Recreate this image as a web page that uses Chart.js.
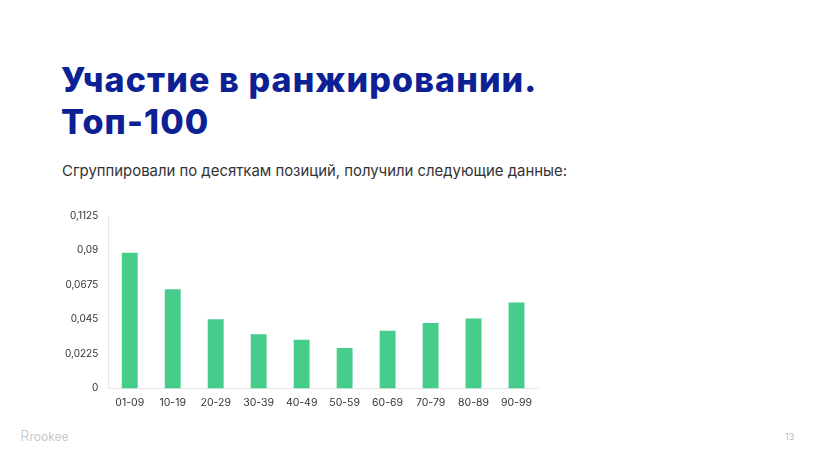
<!DOCTYPE html>
<html><head><meta charset="utf-8">
<script src="https://cdn.jsdelivr.net/npm/chart.js@4/dist/chart.umd.min.js"></script>
<style>
html,body{margin:0;padding:0;background:#fff;width:818px;height:460px;overflow:hidden;font-family:Inter,"Open Sans",sans-serif;}
#title{position:absolute;left:61px;top:59px;font-size:34px;font-weight:800;color:#0c2294;line-height:42px;letter-spacing:1.1px;}
#sub{position:absolute;left:62px;top:162px;font-size:14.9px;color:#333;}
#wrap{position:absolute;left:55px;top:200px;width:500px;height:217px;}
#logo{position:absolute;left:20px;top:426px;font-size:12px;color:#c8c8c8;}
#page{position:absolute;left:785px;top:431px;font-size:9px;color:#bbb;}
</style></head>
<body>
<div id="title">Участие в ранжировании.<br>Топ-100</div>
<div id="sub">Сгруппировали по десяткам позиций, получили следующие данные:</div>
<div id="wrap"><canvas id="c"></canvas></div>
<div id="logo"><span style="font-size:15px;font-weight:300;">R</span>rookee</div>
<div id="page">13</div>
<script>
const categories = ["01-09","10-19","20-29","30-39","40-49","50-59","60-69","70-79","80-89","90-99"];
const values = [0.0886,0.0647,0.0452,0.0354,0.0317,0.0263,0.0376,0.0426,0.0456,0.0560];
const tickValues = [0,0.0225,0.045,0.0675,0.09,0.1125];
const tickLabels = ["0","0,0225","0,045","0,0675","0,09","0,1125"];

new Chart(document.getElementById('c'),{
  type:'bar',
  data:{labels:categories,datasets:[{data:values,backgroundColor:'#46cd8c',categoryPercentage:1,barPercentage:0.37}]},
  options:{
    responsive:true,maintainAspectRatio:false,animation:false,
    layout:{padding:{left:0,right:17,top:6,bottom:0}},
    plugins:{legend:{display:false},tooltip:{enabled:false}},
    scales:{
      x:{grid:{display:false,drawTicks:false},border:{color:'#e6e6e6'},
         ticks:{color:'#333',font:{family:'Inter',size:10.5},padding:8}},
      y:{min:0,max:0.1125,grid:{display:false,drawTicks:false},border:{color:'#e6e6e6'},
         afterBuildTicks:(ax)=>{ax.ticks=tickValues.map(v=>({value:v}));},
         ticks:{color:'#333',font:{family:'Inter',size:10},padding:10,
           callback:(v,i)=>tickLabels[i]}}
    }
  }
});
</script>
</body></html>
